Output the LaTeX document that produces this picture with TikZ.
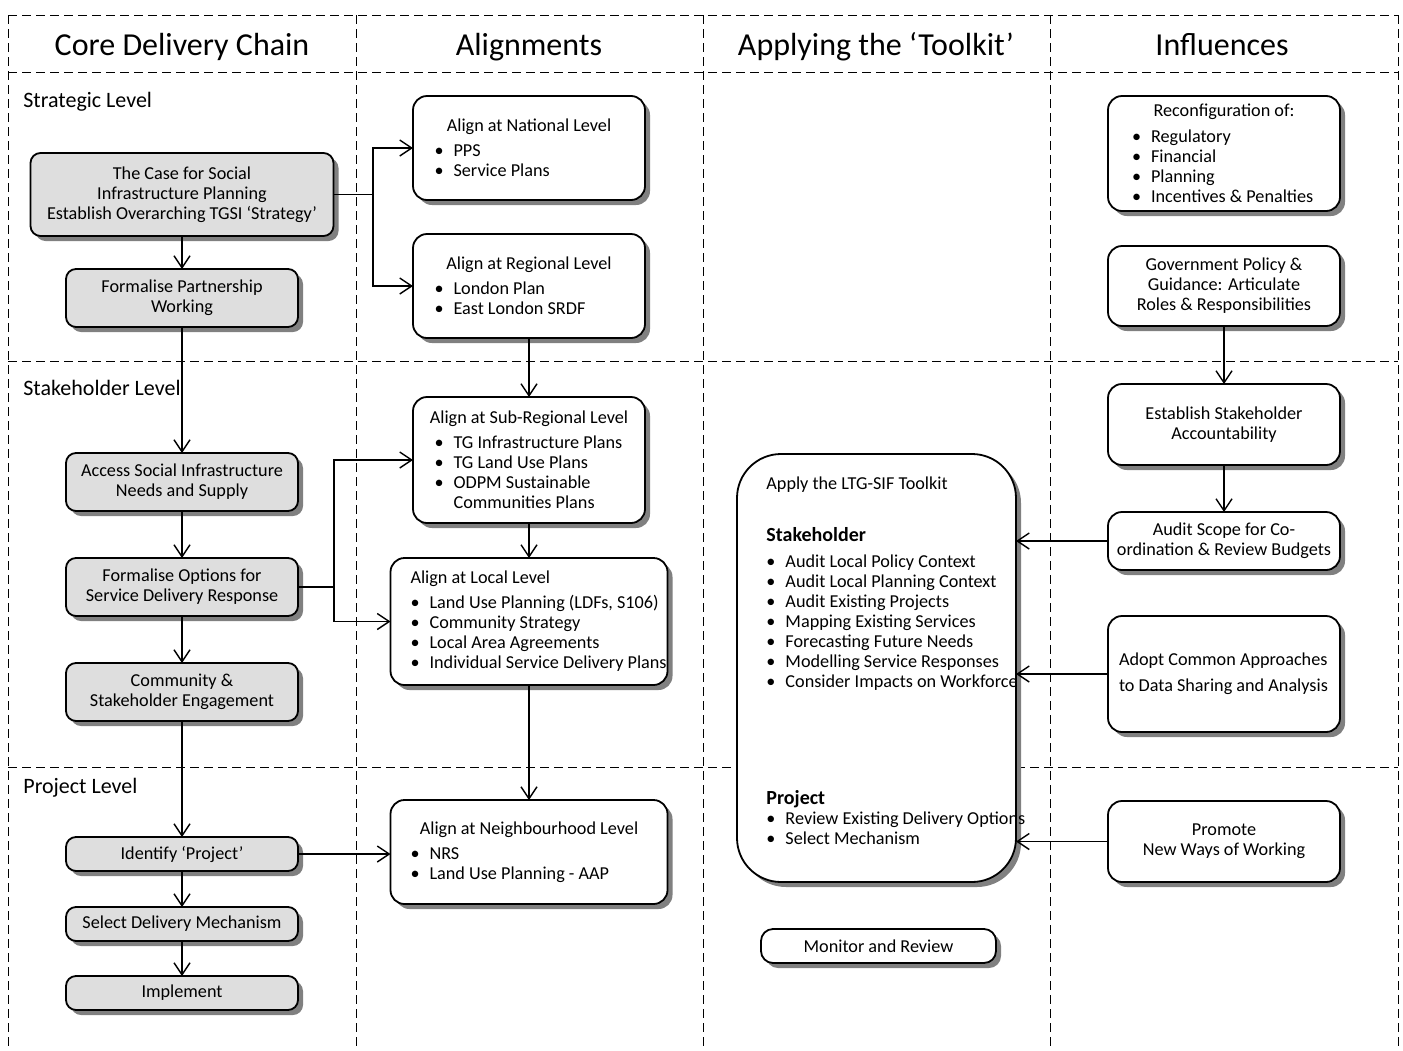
\documentclass[tikz,border=0pt]{standalone}
\usepackage{fontspec}
\setmainfont{Carlito}
\usetikzlibrary{positioning, arrows.meta, shadows}

\definecolor{chainfill}{gray}{0.87}
\newcommand{\itm}[1]{\mbox{\textbullet\hspace{0.55em}#1}}
\newcommand{\itmpad}{\phantom{\textbullet\hspace{0.55em}}}
\newcommand{\boxhead}[1]{\makebox[\hsize]{#1}}

\begin{document}
\begin{tikzpicture}[x=0.5pt, y=0.5pt,
every node/.style={font=\fontsize{9.1}{10}\selectfont,
  execute at begin node={\spaceskip=0pt\xspaceskip=0pt}},
lane/.style={line width=0.5pt, dash pattern=on 4.5pt off 2.5pt},
chain/.style={draw, line width=0.9pt, rounded corners=5pt, fill=chainfill,
  align=center, inner sep=2pt, outer sep=0pt, minimum width=116pt, minimum height=29pt,
  drop shadow={shadow xshift=2.5pt, shadow yshift=-2.5pt, fill=black!50, opacity=1}},
plain/.style={chain, fill=white, rounded corners=7pt},
flow/.style={line width=0.7pt, -{Straight Barb[length=6pt, width=8pt]}},
lane title/.style={font=\fontsize{16}{18}\selectfont, anchor=base},
level/.style={font=\fontsize{11}{13}\selectfont, anchor=base west, inner xsep=0pt}
]
\useasboundingbox (0,0) rectangle (1403,-1050);

\draw[lane]
(8,-15) -- (1398,-15)
(8,-72) -- (1398,-72)
(8,-361) -- (1398,-361)
(8,-767) -- (1398,-767)
(8,-15) -- (8,-1050)
(356,-15) -- (356,-1050)
(703,-15) -- (703,-1050)
(1050,-15) -- (1050,-1050)
(1398,-15) -- (1398,-1050)
;

\path
(182,-55) node[lane title] (t-core) {Core Delivery Chain}
++(0:347) node[lane title] (t-align) {Alignments}
++(0:347) node[lane title] (t-tool) {Applying the ‘Toolkit’}
++(0:346) node[lane title] (t-infl) {Influences}
;

\path
(23,-107) node[level] (lv-strat) {Strategic Level}
++(-90:288) node[level] (lv-stake) {Stakeholder Level}
++(-90:398) node[level] (lv-proj) {Project Level}
;

% core delivery chain
\path
(182,-194.5) node[chain, minimum width=151.5pt, minimum height=41.5pt] (case-soc)
  {The Case for Social\\ Infrastructure Planning\\ Establish Overarching TGSI ‘Strategy’}
node[chain] (form-part) [below=16.5pt of case-soc] {Formalise Partnership\\ Working}
node[chain] (acc-need) [below=63pt of form-part] {Access Social Infrastructure\\ Needs and Supply}
node[chain] (form-opt) [below=23.5pt of acc-need] {Formalise Options for\\ Service Delivery Response}
node[chain] (comm-eng) [below=23.5pt of form-opt] {Community \&\\ Stakeholder Engagement}
node[chain, minimum height=17pt] (id-proj) [below=58pt of comm-eng] {Identify ‘Project’}
node[chain, minimum height=17pt] (sel-mech) [below=18pt of id-proj] {Select Delivery Mechanism}
node[chain, minimum height=17pt] (impl) [below=17.5pt of sel-mech] {Implement}
;

% alignments
\path
(529,-148) node[plain, text width=94.5pt, inner xsep=10.5pt, minimum height=52pt, align=left] (al-nat)
  {\boxhead{Align at National Level}\\[2.5pt] \itm{PPS}\\ \itm{Service Plans}}
++(-90:138) node[plain, text width=94.5pt, inner xsep=10.5pt, minimum height=52pt, align=left] (al-reg)
  {\boxhead{Align at Regional Level}\\[2.5pt] \itm{London Plan}\\ \itm{East London SRDF}}
++(-90:174) node[plain, text width=94.5pt, inner xsep=10.5pt, minimum height=63pt, align=left] (al-sub)
  {\boxhead{Align at Sub-Regional Level}\\[2.5pt] \itm{TG Infrastructure Plans}\\ \itm{TG Land Use Plans}\\
   \itm{ODPM Sustainable}\\ \mbox{\itmpad Communities Plans}}
++(-90:161.5) node[plain, text width=118.5pt, inner xsep=10pt, minimum height=63.5pt, align=left] (al-loc)
  {Align at Local Level\\[2.5pt] \itm{Land Use Planning (LDFs, S106)}\\ \itm{Community Strategy}\\
   \itm{Local Area Agreements}\\ \itm{Individual Service Delivery Plans}}
++(-90:230.5) node[plain, text width=118.5pt, inner xsep=10pt, minimum height=52pt, align=left] (al-nbh)
  {\boxhead{Align at Neighbourhood Level}\\[2.5pt] \itm{NRS}\\ \itm{Land Use Planning - AAP}}
;

% toolkit
\path
(876.5,-668) node[plain, rounded corners=22pt, minimum width=139.5pt, minimum height=214pt] (toolkit) {}
(766,-476) node[anchor=north west, inner sep=0pt, align=left] (tk-text)
  {Apply the LTG-SIF Toolkit\\[16pt]
   {\fontsize{10}{10}\selectfont\bfseries Stakeholder}\\[3pt]
   \itm{Audit Local Policy Context}\\ \itm{Audit Local Planning Context}\\ \itm{Audit Existing Projects}\\
   \itm{Mapping Existing Services}\\ \itm{Forecasting Future Needs}\\ \itm{Modelling Service Responses}\\
   \itm{Consider Impacts on Workforce}\\[48.5pt]
   {\fontsize{10}{10}\selectfont\bfseries Project}\\
   \itm{Review Existing Delivery Options}\\ \itm{Select Mechanism}}
(878.5,-946) node[plain, rounded corners=6pt, minimum width=117.5pt, minimum height=17pt] (mon-rev) {Monitor and Review}
;

% influences
\path
(1224,-153.5) node[plain, text width=92pt, inner xsep=12pt, minimum height=57.5pt, align=left] (reconf)
  {\boxhead{Reconfiguration of:}\\[3pt] \itm{Regulatory}\\ \itm{Financial}\\ \itm{Planning}\\ \itm{Incentives \& Penalties}}
++(-90:132.5) node[plain, minimum height=40pt] (gov-pol) {Government Policy \&\\ Guidance: Articulate\\ Roles \& Responsibilities}
++(-90:138.5) node[plain, minimum height=40.5pt] (est-acc) {Establish Stakeholder\\ Accountability}
++(-90:116.5) node[plain, minimum height=29pt] (aud-scope) {Audit Scope for Co-\\ ordination \& Review Budgets}
++(-90:133) node[plain, minimum height=58pt, text width=105pt, inner xsep=5.5pt, align=left] (adopt)
  {\mbox{Adopt Common Approaches}\\[3pt] \mbox{to Data Sharing and Analysis}}
++(-90:167.5) node[plain, minimum height=40.5pt] (promote) {Promote\\ New Ways of Working}
;

\path (case-soc.east) ++(0:39.5) coordinate (j-case);
\path (form-opt.east) ++(0:36) coordinate (j-opt);

\draw[flow] (case-soc) -- (form-part);
\draw[flow] (form-part) -- (acc-need);
\draw[flow] (acc-need) -- (form-opt);
\draw[flow] (form-opt) -- (comm-eng);
\draw[flow] (comm-eng) -- (id-proj);
\draw[flow] (id-proj) -- (sel-mech);
\draw[flow] (sel-mech) -- (impl);

\draw[line width=0.7pt] (case-soc.east) -- (j-case);
\draw[flow] (j-case) |- (al-nat);
\draw[flow] (j-case) |- (al-reg);

\draw[line width=0.7pt] (form-opt.east) -- (j-opt);
\draw[flow] (j-opt) |- (al-sub);
\draw[flow] (j-opt) |- (al-loc);

\draw[flow] (id-proj) -- (id-proj -| al-nbh.west);

\draw[flow] (al-reg) -- (al-sub);
\draw[flow] (al-sub) -- (al-loc);
\draw[flow] (al-loc) -- (al-nbh);

\draw[flow] (gov-pol) -- (est-acc);
\draw[flow] (est-acc) -- (aud-scope);

\draw[flow] (aud-scope) -- (aud-scope -| toolkit.east);
\draw[flow] (adopt) -- (adopt -| toolkit.east);
\draw[flow] (promote) -- (promote -| toolkit.east);

\end{tikzpicture}
\end{document}
